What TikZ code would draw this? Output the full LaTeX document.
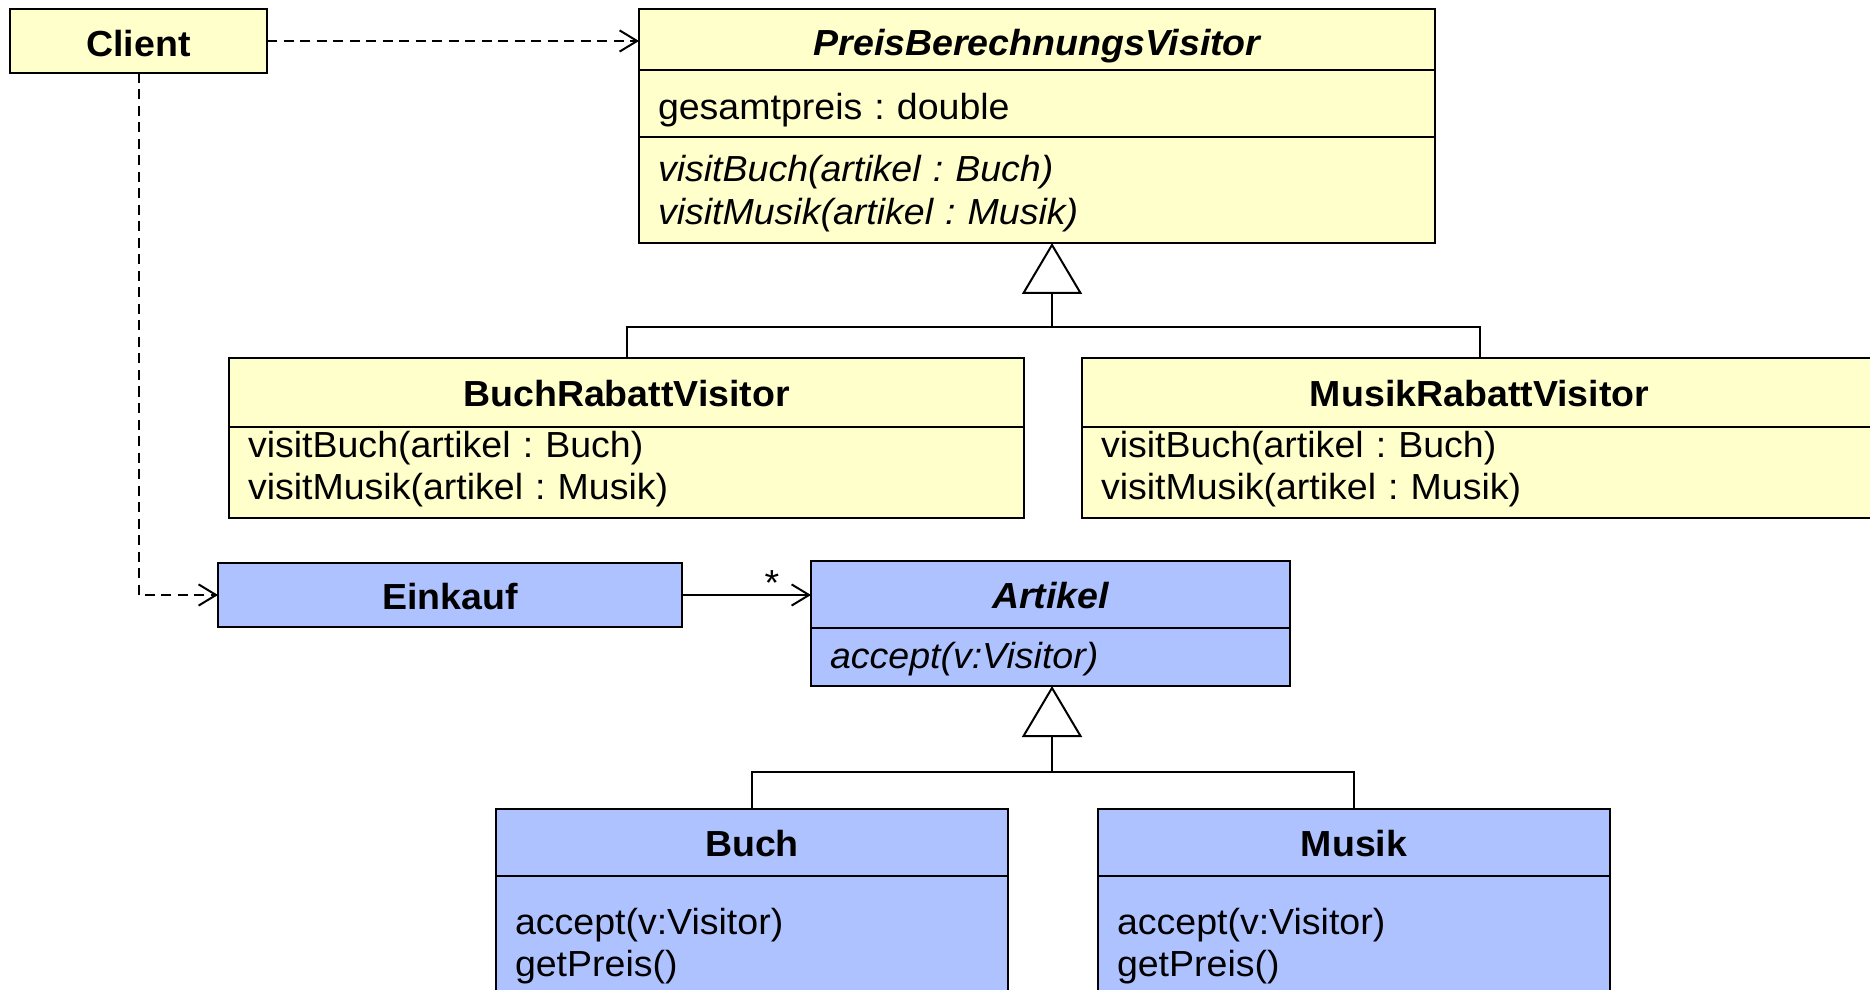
\documentclass[tikz,border=0pt]{standalone}
\usepackage{fontspec}
\setmainfont{Liberation Sans}[FakeStretch=1.035]
\usetikzlibrary{arrows.meta,calc}
\frenchspacing

\definecolor{classyellow}{RGB}{255,255,204}
\definecolor{classblue}{RGB}{174,194,255}

\tikzset{
  comp/.style={draw=black, line width=1pt, anchor=north west, inner sep=0pt, outer sep=0pt},
  titlepart/.style={comp, font=\fontsize{14.5}{17}\selectfont\bfseries, text height=11.2pt, text depth=0pt},
  listpart/.style={comp, font=\fontsize{14.5}{17}\selectfont, align=left, inner xsep=7.6pt},
  abstract/.style={font=\fontsize{14.5}{17}\selectfont\bfseries\itshape},
  abstractops/.style={font=\fontsize{14.5}{17}\selectfont\itshape},
  yel/.style={fill=classyellow},
  blu/.style={fill=classblue},
  link/.style={draw=black, line width=0.8pt},
  dep/.style={link, dash pattern=on 4pt off 2.6pt, -{Straight Barb[length=7pt,width=8.5pt]}},
  assoc/.style={link, -{Straight Barb[length=7pt,width=8.5pt]}},
  inherit/.style={link, -{Triangle[open, length=20.4pt, width=24pt]}},
  mult/.style={font=\fontsize{14.5}{17}\selectfont, inner sep=0pt, anchor=base},
}

\begin{document}
\begin{tikzpicture}[x=0.4pt, y=-0.4pt]
\useasboundingbox (0,0) rectangle (1870,990);
\clip (0,0) rectangle (1870,990);

% --- client ---
\node[titlepart, yel, minimum width=102.8pt, minimum height=25.6pt, text height=12.4pt] (client) at (10,9) {Client};

% --- abstract visitor ---
\node[titlepart, yel, abstract, minimum width=318.4pt, minimum height=24.4pt, text height=13.2pt] (pbvt) at (639,9) {PreisBerechnungsVisitor};
\node[listpart, yel, text width=303.2pt, minimum height=26.8pt, text height=19.8pt, text depth=7pt] (pbvattr) at (pbvt.south west) {gesamtpreis : double};
\node[listpart, yel, abstractops, text width=303.2pt, minimum height=42.4pt, text height=18pt, text depth=24.4pt] (pbvops) at (pbvattr.south west)
  {visitBuch(artikel : Buch)\\visitMusik(artikel : Musik)};

% --- concrete visitors ---
\node[titlepart, yel, minimum width=318pt, minimum height=27.6pt] (brvt) at (229,358) {BuchRabattVisitor};
\node[listpart, yel, text width=302.8pt, minimum height=36.4pt, text height=12.2pt, text depth=24.2pt] (brvops) at (brvt.south west)
  {visitBuch(artikel : Buch)\\visitMusik(artikel : Musik)};

\node[titlepart, yel, minimum width=318pt, minimum height=27.6pt] (mrvt) at (1082,358) {MusikRabattVisitor};
\node[listpart, yel, text width=302.8pt, minimum height=36.4pt, text height=12.2pt, text depth=24.2pt] (mrvops) at (mrvt.south west)
  {visitBuch(artikel : Buch)\\visitMusik(artikel : Musik)};

% --- element structure ---
\node[titlepart, blu, minimum width=185.6pt, minimum height=25.6pt] (eink) at (218,563) {Einkauf};

\node[titlepart, blu, abstract, minimum width=191.6pt, minimum height=26.8pt] (artt) at (811,561) {Artikel};
\node[listpart, blu, abstractops, text width=176.4pt, minimum height=23.2pt, text height=16pt, text depth=7.2pt] (artops) at (artt.south west) {accept(v:Visitor)};

\node[titlepart, blu, minimum width=204.8pt, minimum height=26.8pt] (bucht) at (496,809) {Buch};
\node[listpart, blu, text width=189.6pt, minimum height=56pt, text height=23.2pt, text depth=32.8pt] (buchops) at (bucht.south west)
  {accept(v:Visitor)\\getPreis()};

\node[titlepart, blu, minimum width=204.8pt, minimum height=26.8pt] (musikt) at (1098,809) {Musik};
\node[listpart, blu, text width=189.6pt, minimum height=56pt, text height=23.2pt, text depth=32.8pt] (musikops) at (musikt.south west)
  {accept(v:Visitor)\\getPreis()};

% --- dependencies of the client ---
\draw[dep] (client.east) -- (client.east -| pbvt.west);
\draw[dep] (client.south) |- (eink.west);

% --- association with multiplicity ---
\draw[assoc] (eink.east) -- (eink.east -| artt.west);
\node[mult] (star) at (772,596) {*};

% --- generalisations ---
\coordinate (j1) at (1052,327);
\draw[link] (brvt.north) |- (j1) -| (mrvt.north);
\draw[inherit] (j1) -- (j1 |- pbvops.south);

\coordinate (j2) at (1052,772);
\draw[link] (bucht.north) |- (j2) -| (musikt.north);
\draw[inherit] (j2) -- (j2 |- artops.south);
\end{tikzpicture}
\end{document}
